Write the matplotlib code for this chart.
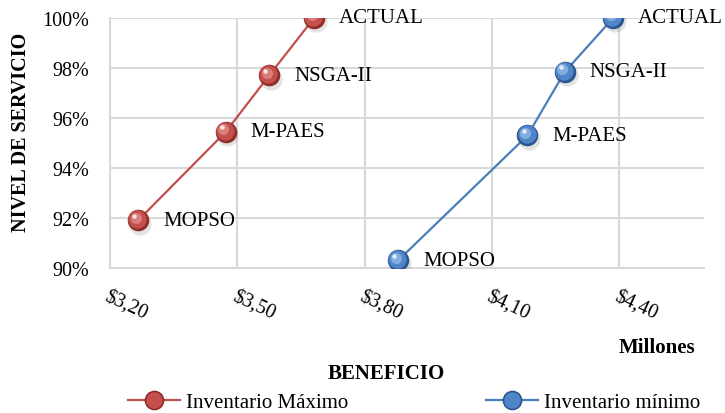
import matplotlib
matplotlib.use("Agg")
import matplotlib.pyplot as plt
from matplotlib.lines import Line2D
from matplotlib.transforms import offset_copy

plt.rcParams['font.family'] = ['Liberation Serif', 'DejaVu Serif']

# data (beneficio in millones, nivel de servicio in %)
point_names = ['MOPSO', 'M-PAES', 'NSGA-II', 'ACTUAL']
max_benefit = [3.266, 3.473, 3.575, 3.681]
max_service = [91.9, 95.45, 97.7, 100.0]
min_benefit = [3.879, 4.184, 4.272, 4.386]
min_service = [90.3, 95.3, 97.85, 100.0]

x_ticks = [3.20, 3.50, 3.80, 4.10, 4.40]
x_tick_labels = [r'\$3,20', r'\$3,50', r'\$3,80', r'\$4,10', r'\$4,40']
y_ticks = [90, 92, 94, 96, 98, 100]
y_tick_labels = ['90%', '92%', '94%', '96%', '98%', '100%']

grid_color = '#d9d9d9'

fig = plt.figure(figsize=(7.25, 4.14), dpi=100, facecolor='white')
ax = fig.add_axes([110 / 725, 1 - 269 / 414, 594 / 725, 250 / 414])


def shifted(dx, dy):
    return offset_copy(ax.transData, fig=fig, x=dx, y=dy, units='points')


def sphere_series(xs, ys, line_col, shades, label):
    dark, mid, light = shades
    ax.plot(xs, ys, color=line_col, lw=1.6, zorder=3)
    # soft shadow, then a few stacked discs for the ball look
    ax.plot(xs, ys, ls='none', marker='o', ms=16, color='#666666', alpha=0.18,
            mec='none', transform=shifted(1.2, -2.2), zorder=3)
    ax.plot(xs, ys, ls='none', marker='o', ms=15.5, mfc=dark, mec='none', zorder=4)
    ax.plot(xs, ys, ls='none', marker='o', ms=13.2, mfc=mid, mec='none',
            transform=shifted(-0.6, 0.8), zorder=5)
    ax.plot(xs, ys, ls='none', marker='o', ms=8, mfc=light, mec='none',
            alpha=0.8, transform=shifted(-1.7, 2.1), zorder=6)
    ax.plot(xs, ys, ls='none', marker='o', ms=3.2, mfc='white', mec='none',
            alpha=0.8, transform=shifted(-2.6, 3.2), zorder=7)
    for name, x, y in zip(point_names, xs, ys):
        ax.annotate(name, (x, y), xytext=(18, 0), textcoords='offset points',
                    ha='left', va='center', fontsize=15, zorder=8)
    return Line2D([], [], color=line_col, lw=1.6, marker='o', ms=13,
                  mfc=mid, mec=dark, mew=1.2, label=label)


h1 = sphere_series(max_benefit, max_service, '#c0504d',
                   ('#8e2e2b', '#c44f4c', '#e08a87'), 'Inventario Máximo')
h2 = sphere_series(min_benefit, min_service, '#4a7ebb',
                   ('#2c568f', '#4f86c9', '#8fb8e8'), 'Inventario mínimo')

ax.set_xlim(3.20, 4.60)
ax.set_ylim(90, 100)
ax.set_xticks(x_ticks)
ax.set_xticklabels(x_tick_labels)
ax.set_yticks(y_ticks)
ax.set_yticklabels(y_tick_labels)
ax.grid(True, color=grid_color, lw=1.5)
ax.set_axisbelow(True)
for side in ['top', 'right']:
    ax.spines[side].set_visible(False)
for side in ['left', 'bottom']:
    ax.spines[side].set_color(grid_color)
    ax.spines[side].set_linewidth(1.5)
ax.tick_params(axis='both', length=0, labelsize=14.5)
ax.tick_params(axis='y', pad=15)
ax.tick_params(axis='x', pad=13)
for lbl in ax.get_xticklabels():
    lbl.set_rotation(-25)
    lbl.set_ha('left')
    lbl.set_va('top')
    lbl.set_rotation_mode('anchor')

fig.text(21 / 725, 1 - 132 / 414, 'NIVEL DE SERVICIO', rotation=90,
         ha='center', va='center', fontsize=14.5, fontweight='bold')
fig.text(386 / 725, 1 - 374 / 414, 'BENEFICIO', ha='center', va='center',
         fontsize=15, fontweight='bold')
fig.text(657 / 725, 1 - 348 / 414, 'Millones', ha='center', va='center',
         fontsize=15, fontweight='bold')

fig.legend(handles=[h1, h2], ncol=2, loc='center left',
           bbox_to_anchor=(128 / 725, 1 - 403 / 414), frameon=False,
           fontsize=15, handlelength=2.5, handletextpad=0.3,
           columnspacing=6.6, borderpad=0, borderaxespad=0)

fig.savefig('out.png', dpi=100, facecolor='white')
